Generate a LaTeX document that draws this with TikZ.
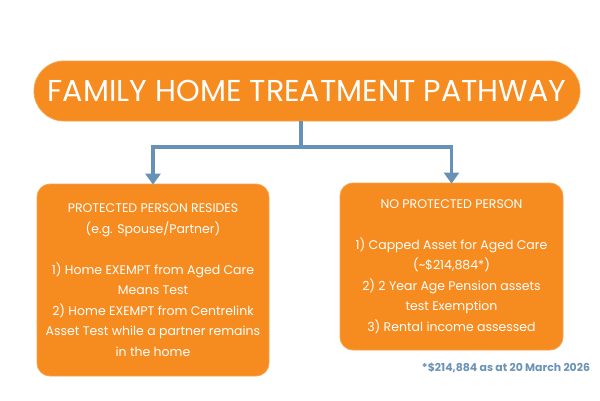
\documentclass[tikz,border=0pt]{standalone}
\usepackage{fontspec}
\setmainfont{Poppins}
\usetikzlibrary{arrows.meta}
\definecolor{orng}{HTML}{F68B1F}
\definecolor{edgeo}{HTML}{F9A24A}
\definecolor{conn}{HTML}{6692B7}
\definecolor{foot}{HTML}{6B93B8}
\tikzset{
  pill/.style={fill=orng, draw=edgeo, line width=0.8pt, rounded corners=30pt, minimum width=546pt, minimum height=60pt, inner sep=0pt, text=white, font=\fontsize{30.2}{34}\selectfont},
  boxo/.style={fill=orng, draw=edgeo, line width=0.8pt, rounded corners=13pt, inner sep=0pt, text=white, align=center, font=\fontsize{12.5}{20.5}\selectfont},
  link/.style={draw=conn, line width=3.6pt},
  arr/.style={link, -{Triangle[length=11pt,width=15pt]}, shorten >=-1pt},
}
\begin{document}
\begin{tikzpicture}[x=1pt,y=-1pt]
\useasboundingbox (0,0) rectangle (600,400);
\node[pill] (title) at (307,91) {FAMILY HOME TREATMENT PATHWAY};
\node[boxo, minimum width=232pt, minimum height=192pt] (left) at (153,280) {PROTECTED PERSON RESIDES\\(e.g. Spouse/Partner)\\[20.5pt]1) Home EXEMPT from Aged Care\\Means Test\\2) Home EXEMPT from Centrelink\\Asset Test while a partner remains\\in the home};
\node[boxo, minimum width=223pt, minimum height=167pt] (right) at (451.5,266.5) {NO PROTECTED PERSON\\[20.5pt]1) Capped Asset for Aged Care\\(\textasciitilde\$214,884*)\\2) 2 Year Age Pension assets\\test Exemption\\3) Rental income assessed};
\node[text=foot, font=\bfseries\fontsize{10.9}{12}\selectfont] (note) at (506,368) {*\$214,884 as at 20 March 2026};
\coordinate (top) at (301,121);
\coordinate (split) at (301,147);
\draw[link] (top) -- (split);
\draw[arr] (split) -| (left.north);
\draw[arr] (split) -| (right.north);
\end{tikzpicture}
\end{document}
